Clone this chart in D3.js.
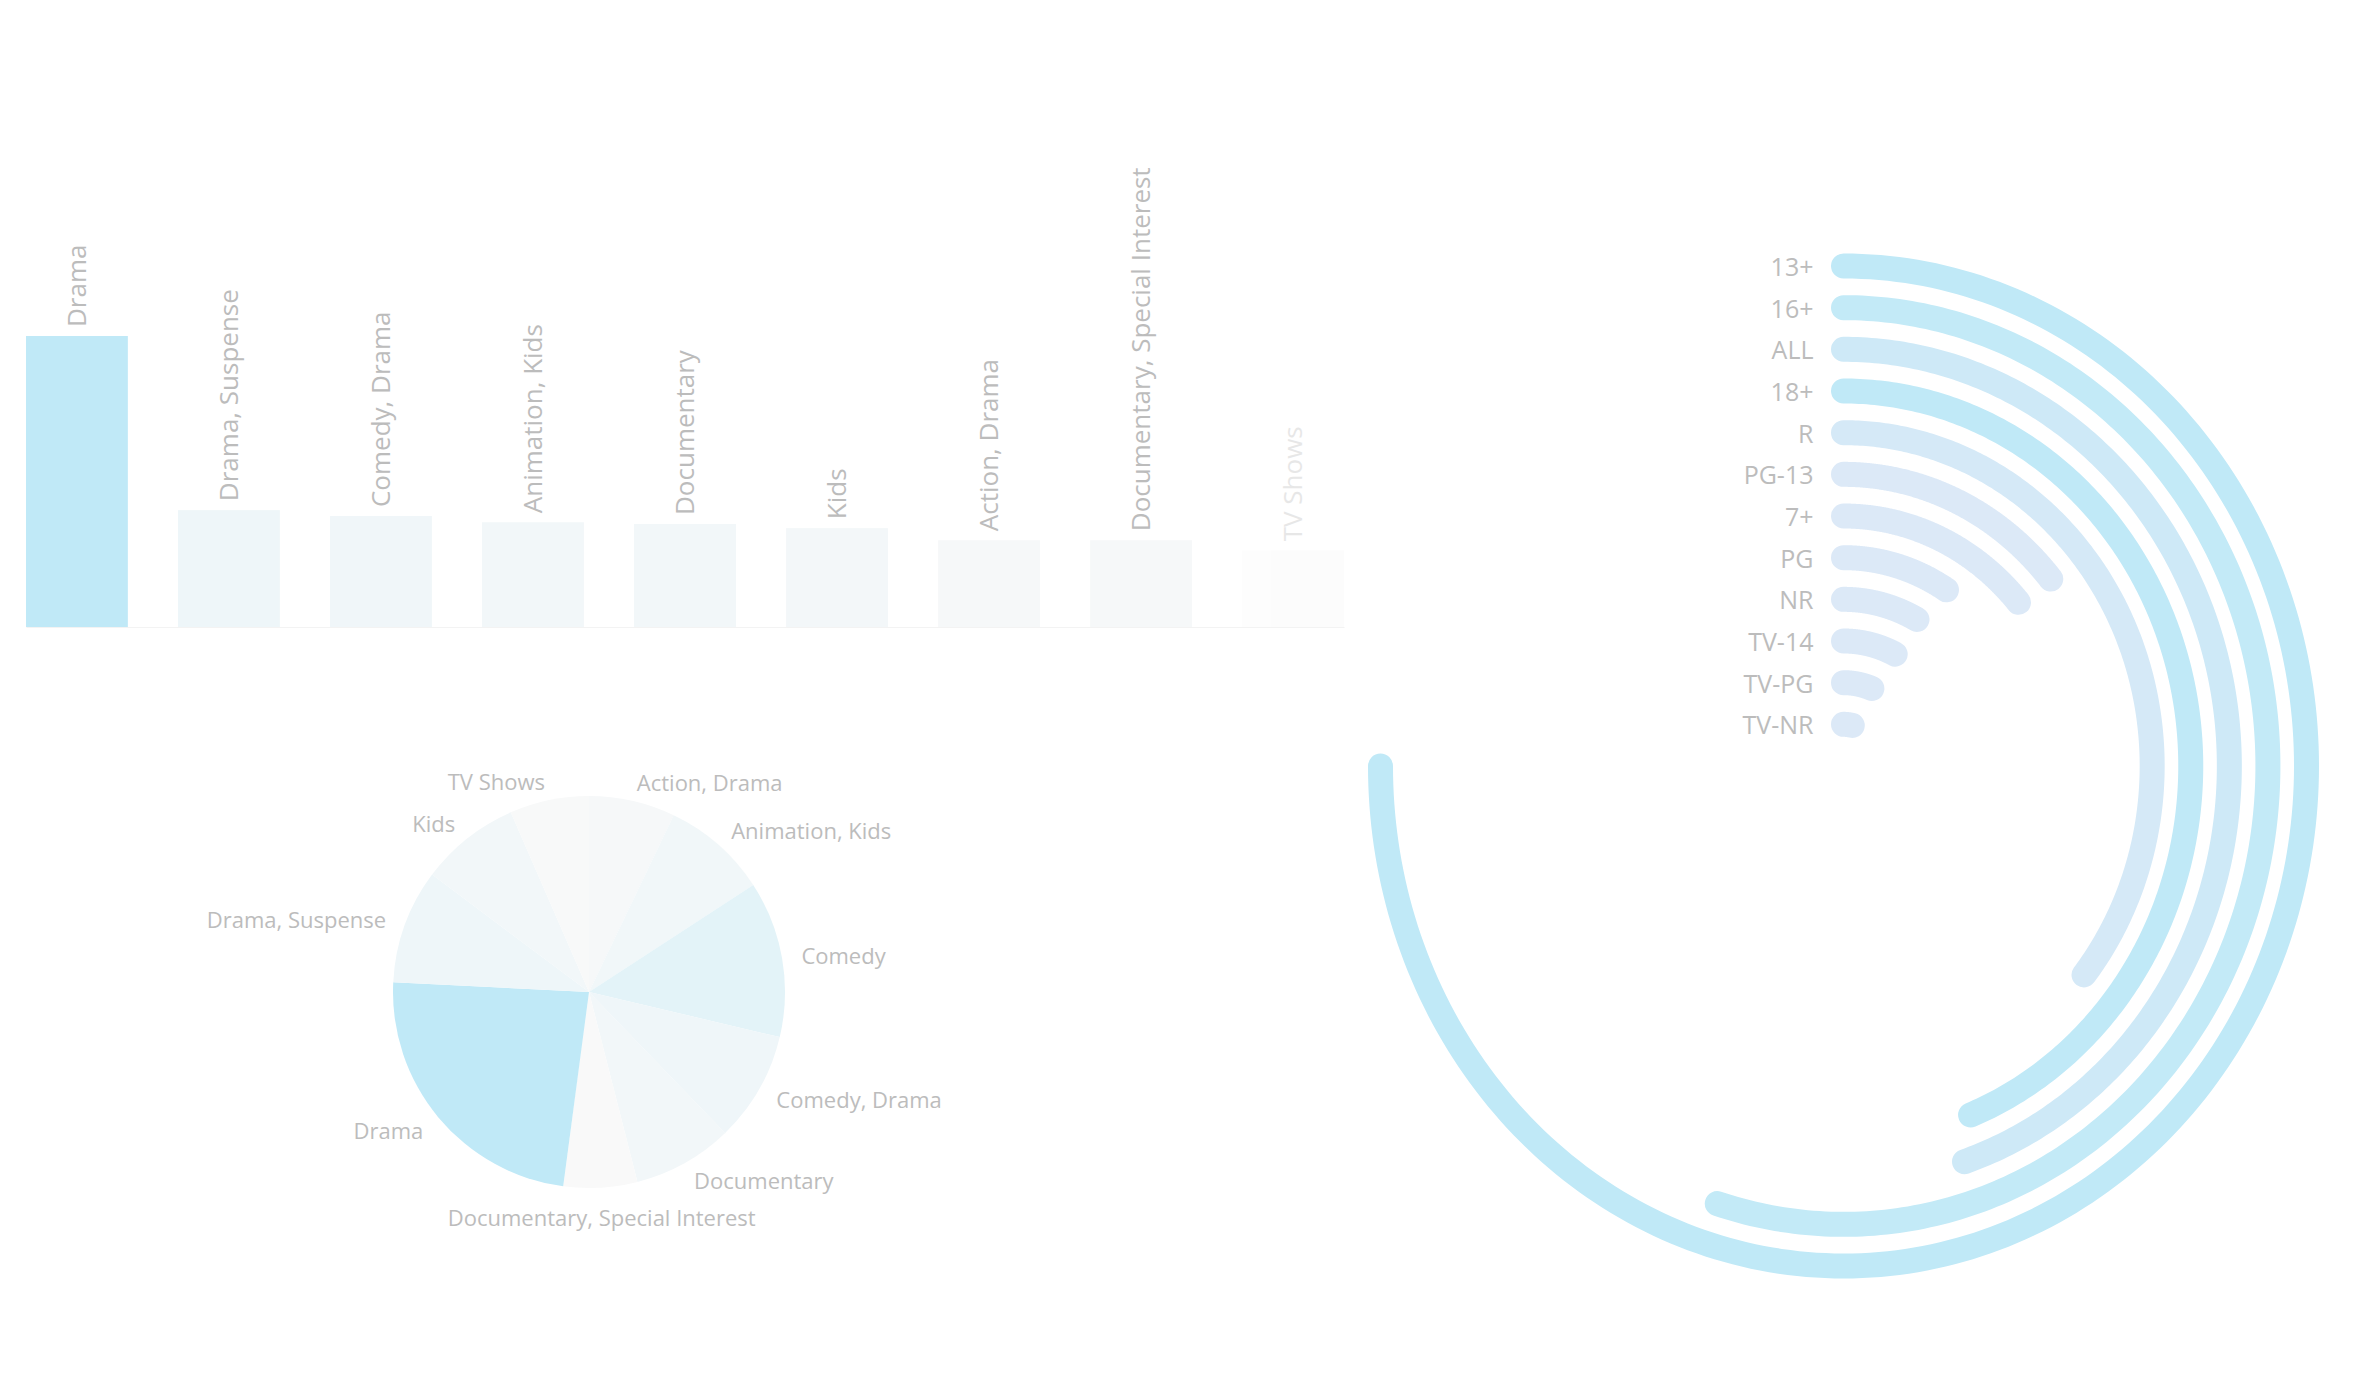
<!DOCTYPE html>
<html><head><meta charset="utf-8">
<script src="https://cdn.jsdelivr.net/npm/d3@7"></script>
<style>
html,body{margin:0;padding:0;background:#fff;}
svg{display:block;}
text{font-family:"Open Sans",sans-serif;}
</style>
</head><body>
<svg id="chart" width="2364" height="1382"></svg>
<script>
// ---- data ----
const barGenres = ["Drama","Drama, Suspense","Comedy, Drama","Animation, Kids","Documentary","Kids","Action, Drama","Documentary, Special Interest","TV Shows"];
const barCounts = [986, 396, 376, 355, 349, 335, 294, 294, 260];

const pieGenres = ["Action, Drama","Animation, Kids","Comedy","Comedy, Drama","Documentary","Documentary, Special Interest","Drama","Drama, Suspense","Kids","TV Shows"];
const pieCounts = [296, 362, 536, 378, 343, 253, 986, 392, 343, 272];

const ratings = ["13+","16+","ALL","18+","R","PG-13","7+","PG","NR","TV-14","TV-PG","TV-NR"];
const ratingCounts = [2117, 1547, 1268, 1243, 1010, 393, 385, 253, 223, 208, 169, 103];
const ratingColors = ["#c0e9f7","#c3eaf7","#cee9f7","#c0e9f7","#d5e9f7","#dce9f7","#dce9f7","#dce9f7","#dce9f7","#dce9f7","#dce9f7","#dce9f7"];

const svg = d3.select("#chart");
const labelGray = "#bcbcbc";

// ---- bar chart ----
const barData = barGenres.map((g, i) => ({genre: g, count: barCounts[i]}));
const x = d3.scaleBand().domain(barGenres).range([26, 1344]).paddingInner(0.33).paddingOuter(0);
const y = d3.scaleLinear().domain([0, d3.max(barCounts)]).range([627, 336]);
const barColor = d3.scaleLinear().domain(d3.extent(barCounts)).range(["#f9f9f9", "#c0e9f7"]);

const barG = svg.append("g");
barG.append("g")
  .attr("transform", "translate(0,627)")
  .call(d3.axisBottom(x).tickSize(0).tickFormat(""))
  .call(g => g.select(".domain").attr("stroke", "#f3f3f3"));

const bars = barG.selectAll("g.bar").data(barData).join("g")
  .attr("class", "bar")
  .attr("opacity", d => d.genre === "TV Shows" ? 0.35 : 1);
bars.append("rect")
  .attr("x", d => x(d.genre))
  .attr("y", d => y(d.count))
  .attr("width", x.bandwidth())
  .attr("height", d => y(0) - y(d.count))
  .attr("fill", d => barColor(d.count));
bars.append("text")
  .attr("transform", d => `translate(${x(d.genre) + x.bandwidth() / 2},${y(d.count) - 9}) rotate(-90)`)
  .attr("dy", "0.35em")
  .attr("text-anchor", "start")
  .attr("font-size", 26)
  .attr("fill", labelGray)
  .text(d => d.genre);

// ---- pie chart ----
const pieData = pieGenres.map((g, i) => ({genre: g, count: pieCounts[i]}));
const pcx = 589, pcy = 992, R = 196;
const pie = d3.pie().sort(null).value(d => d.count);
const arcs = pie(pieData);
const arcGen = d3.arc().innerRadius(0).outerRadius(R);
const labelArc = d3.arc().innerRadius(R * 1.1).outerRadius(R * 1.1);
const pieColor = d3.scaleLinear().domain(d3.extent(pieCounts)).range(["#f9f9f9", "#c0e9f7"]);
const pieG = svg.append("g").attr("transform", `translate(${pcx},${pcy})`);
pieG.selectAll("path").data(arcs).join("path")
  .attr("d", arcGen)
  .attr("fill", d => pieColor(d.data.count));
const midSin = d => Math.sin((d.startAngle + d.endAngle) / 2);
const midCos = d => Math.cos((d.startAngle + d.endAngle) / 2);
pieG.selectAll("text").data(arcs).join("text")
  .attr("transform", d => `translate(${labelArc.centroid(d)})`)
  .attr("text-anchor", d => Math.abs(midSin(d)) < 0.15 ? "middle" : (midSin(d) > 0 ? "start" : "end"))
  .attr("dominant-baseline", d => (Math.abs(midSin(d)) < 0.15 && midCos(d) < 0) ? "hanging" : "central")
  .attr("font-size", 22)
  .attr("fill", labelGray)
  .text(d => d.data.genre);

// ---- radial bar chart (elliptical) ----
const rcx = 1843.5, rcy = 766;
const radData = ratings.map((r, i) => ({rating: r, count: ratingCounts[i], color: ratingColors[i]}));
const angle = d3.scaleLinear().domain([0, d3.max(ratingCounts)]).range([0, 1.5 * Math.PI]);
const ry = d3.scalePoint().domain(ratings).range([500, 41.67]);
const rx = d3.scalePoint().domain(ratings).range([463, 38.6]);
const line = d3.line();
const radG = svg.append("g");
radG.selectAll("path").data(radData).join("path")
  .attr("d", d => {
    const a1 = angle(d.count);
    const pts = d3.range(0, 241).map(k => {
      const a = a1 * k / 240;
      return [rcx + rx(d.rating) * Math.sin(a), rcy - ry(d.rating) * Math.cos(a)];
    });
    return line(pts);
  })
  .attr("fill", "none")
  .attr("stroke", d => d.color)
  .attr("stroke-width", 25)
  .attr("stroke-linecap", "round");
radG.selectAll("text").data(radData).join("text")
  .attr("x", rcx - 30)
  .attr("y", d => rcy - ry(d.rating))
  .attr("text-anchor", "end")
  .attr("dominant-baseline", "central")
  .attr("font-size", 25)
  .attr("fill", labelGray)
  .text(d => d.rating);
</script>
</body></html>
